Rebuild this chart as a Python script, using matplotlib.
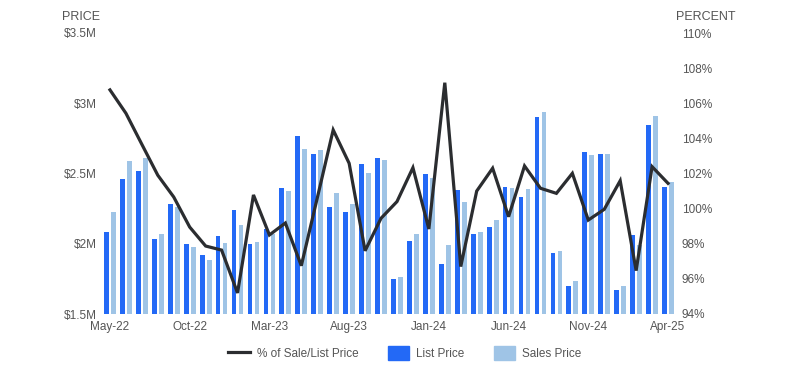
import matplotlib.pyplot as plt
from matplotlib.lines import Line2D
from matplotlib.patches import Patch
from matplotlib.ticker import FuncFormatter

plt.rcParams['font.family'] = ['Liberation Sans', 'DejaVu Sans']

months = ['May-22', 'Jun-22', 'Jul-22', 'Aug-22', 'Sep-22', 'Oct-22', 'Nov-22', 'Dec-22',
          'Jan-23', 'Feb-23', 'Mar-23', 'Apr-23', 'May-23', 'Jun-23', 'Jul-23', 'Aug-23',
          'Sep-23', 'Oct-23', 'Nov-23', 'Dec-23', 'Jan-24', 'Feb-24', 'Mar-24', 'Apr-24',
          'May-24', 'Jun-24', 'Jul-24', 'Aug-24', 'Sep-24', 'Oct-24', 'Nov-24', 'Dec-24',
          'Jan-25', 'Feb-25', 'Mar-25', 'Apr-25']

list_price = [2.086, 2.461, 2.52, 2.034, 2.283, 2.0, 1.92, 2.055, 2.24, 2.0, 2.105, 2.397,
              2.767, 2.639, 2.262, 2.226, 2.568, 2.61, 1.749, 2.02, 2.496, 1.856, 2.383, 2.07,
              2.119, 2.404, 2.333, 2.902, 1.934, 1.699, 2.653, 2.639, 1.671, 2.062, 2.845, 2.404]

sales_price = [2.226, 2.589, 2.61, 2.069, 2.26, 1.977, 1.884, 2.005, 2.133, 2.012, 2.07, 2.375,
               2.674, 2.667, 2.361, 2.283, 2.504, 2.596, 1.763, 2.07, 2.468, 1.991, 2.297, 2.084,
               2.169, 2.397, 2.39, 2.938, 1.948, 1.735, 2.632, 2.639, 1.699, 1.991, 2.909, 2.44]

pct_sale_list = [106.76, 105.43, 103.66, 101.9, 100.66, 98.95, 97.87, 97.64, 95.2, 100.78, 98.5, 99.18,
                 96.75, 100.6, 104.48, 102.58, 97.6, 99.45, 100.4, 102.33, 98.84, 107.17, 96.7, 101.0,
                 102.3, 99.54, 102.43, 101.16, 100.87, 102.01, 99.35, 99.96, 101.59, 96.47, 102.39, 101.44]

blue = '#2369f6'
light = '#9fc4e6'
dark = '#2b2d30'
txt = '#555555'

fig = plt.figure(figsize=(8.1, 3.78), dpi=100)
ax = fig.add_axes([102/810, 1-314/378, 574/810, 281/378])
ax2 = ax.twinx()

x = list(range(len(months)))
ax.bar([i - 0.22 for i in x], list_price, width=0.3, color=blue, bottom=0)
ax.bar([i + 0.22 for i in x], sales_price, width=0.3, color=light, bottom=0)
ax.set_ylim(1.5, 3.5)
ax.set_xlim(-0.5, 35.5)
ax.set_yticks([1.5, 2, 2.5, 3, 3.5])
ax.yaxis.set_major_formatter(FuncFormatter(lambda v, p: '$%gM' % v))
ax.set_xticks(x[::5])
ax.set_xticklabels(months[::5])

ax2.plot(x, pct_sale_list, color=dark, lw=2.3, solid_joinstyle='miter')
ax2.set_ylim(94, 110)
ax2.set_yticks(range(94, 111, 2))
ax2.yaxis.set_major_formatter(FuncFormatter(lambda v, p: '%d%%' % v))

for a in (ax, ax2):
    for s in a.spines.values():
        s.set_visible(False)
    a.tick_params(length=0, labelsize=8.5, labelcolor=txt)
ax.tick_params(axis='y', pad=4)
ax.tick_params(axis='x', pad=5)
ax2.tick_params(axis='y', pad=4)

fig.text(100/810, 1-17/378, 'PRICE', ha='right', va='center', fontsize=9, color=txt)
fig.text(676/810, 1-17/378, 'PERCENT', ha='left', va='center', fontsize=9, color=txt)

handles = [Line2D([0], [0], color=dark, lw=2.3),
           Patch(color=blue), Patch(color=light)]
labels = ['% of Sale/List Price', 'List Price', 'Sales Price']
fig.legend(handles, labels, loc='center', bbox_to_anchor=(405/810, 1-353/378), ncol=3,
           frameon=False, fontsize=8.5, labelcolor=txt, handlelength=1.8, handleheight=1.4,
           columnspacing=2.5, handletextpad=0.6)

fig.savefig('out.png', dpi=100)
